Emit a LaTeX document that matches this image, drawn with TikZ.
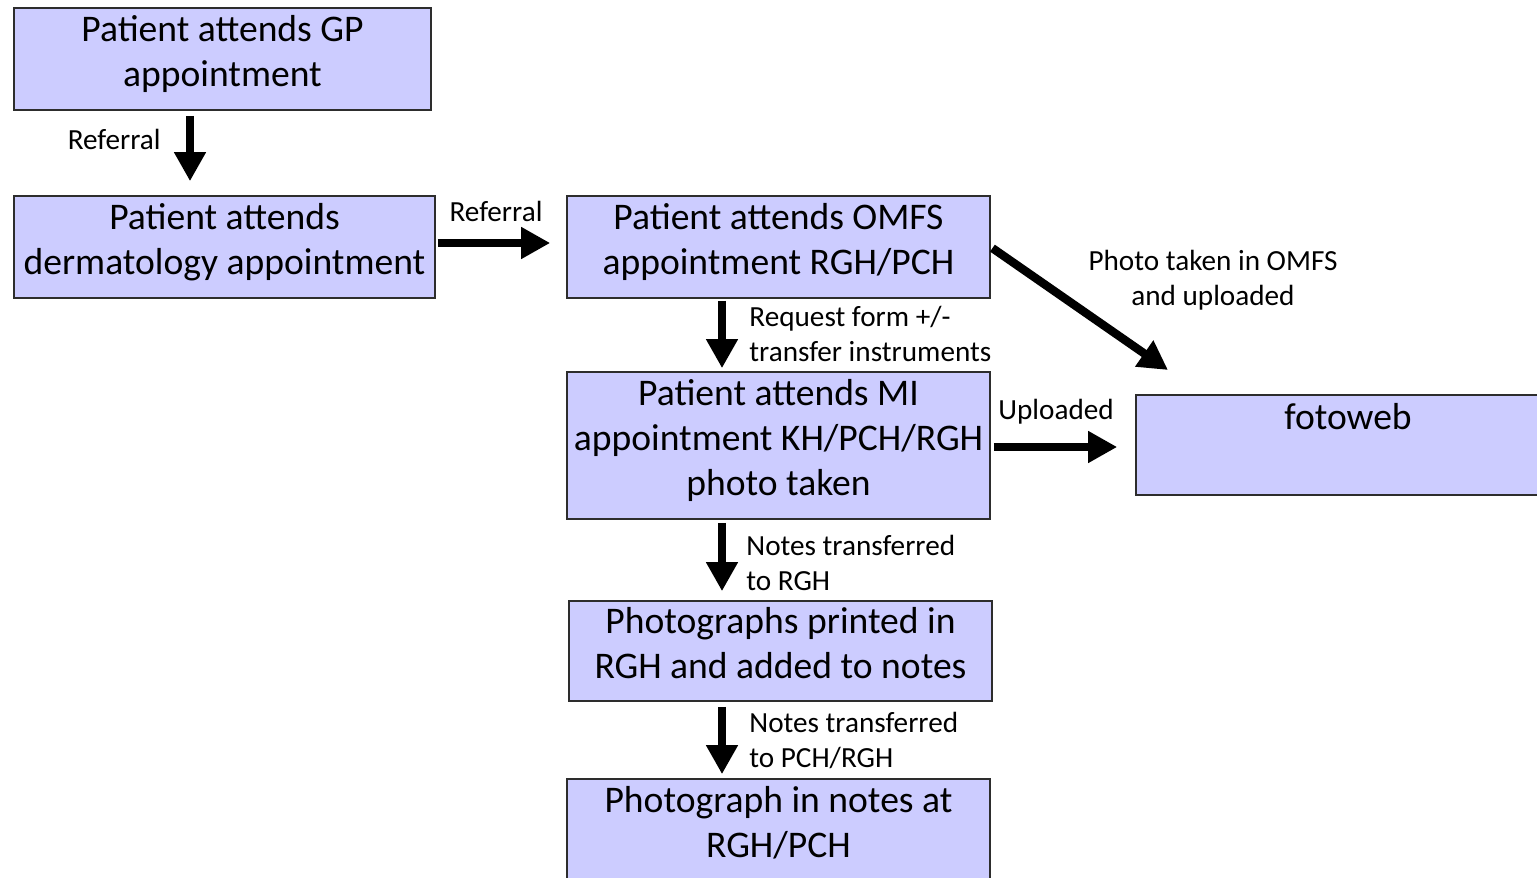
\documentclass[tikz,border=0pt]{standalone}
\usepackage{fontspec}
\setmainfont{Carlito}
\usetikzlibrary{arrows.meta}
\definecolor{boxfill}{RGB}{204,204,255}
\definecolor{boxline}{RGB}{45,45,45}
\begin{document}
\begin{tikzpicture}[x=0.5pt,y=-0.5pt,
  big/.style={font=\fontsize{18.8}{22.5}\selectfont},
  box/.style={big, draw=boxline, line width=0.8pt, fill=boxfill, minimum width=211.5pt,
    minimum height=51pt, inner sep=0pt, align=center,
    execute at begin node={\rule{0pt}{14pt}},
    execute at end node={\rule[-8pt]{0pt}{0pt}}},
  flow/.style={line width=4.2pt, -{Triangle[length=14.5pt,width=15pt]}},
  note/.style={font=\fontsize{14.6}{17.5}\selectfont, inner sep=0pt}]
\useasboundingbox (0,0) rectangle (1537,878);
\clip (0,0) rectangle (1537,878);
\fill[white] (0,0) rectangle (1537,878);

% process boxes
\node[box, minimum width=208.5pt] (gp) at (222.5,59) {Patient attends GP\\appointment};
\node[box, minimum width=210.5pt] (derm) at (224.5,247) {Patient attends\\dermatology appointment};
\node[box] (omfs) at (778.5,247) {Patient attends OMFS\\appointment RGH/PCH};
\node[box, minimum height=73.5pt] (mi) at (778.5,445.5) {Patient attends MI\\appointment KH/PCH/RGH\\photo taken};
\node[box, minimum width=212pt, minimum height=50pt,
  execute at end node={\rule[-29.5pt]{0pt}{0pt}}] (fw) at (1348,445) {fotoweb};
\node[box, minimum height=50pt] (print) at (780.5,651) {Photographs printed in\\RGH and added to notes};
\node[box, minimum height=50.5pt] (notes) at (778.5,829.5) {Photograph in notes at\\RGH/PCH};

% connector columns and rows
\coordinate (colA) at (190,0);
\coordinate (colB) at (722,0);
\coordinate (rowA) at (0,243);
\coordinate (rowB) at (0,447);
\coordinate (ftip) at (1168,370);

% connectors
\draw[flow, shorten <=2.5pt, shorten >=7pt] (gp.south -| colA) -- (derm.north -| colA);
\draw[flow, shorten <=1pt, shorten >=8pt] (derm.east |- rowA) -- (omfs.west |- rowA);
\draw[flow, shorten <=1pt, shorten >=1.5pt] (omfs.south -| colB) -- (mi.north -| colB);
\draw[flow, shorten <=1pt] (omfs.east) -- (ftip);
\draw[flow, shorten <=1.5pt, shorten >=9pt] (mi.east |- rowB) -- (fw.west |- rowB);
\draw[flow, shorten <=1.5pt, shorten >=4.5pt] (mi.south -| colB) -- (print.north -| colB);
\draw[flow, shorten <=2.5pt, shorten >=2pt] (print.south -| colB) -- (notes.north -| colB);

% connector labels
\node[note, anchor=east] (l1) at (161,139) {Referral};
\node[note] (l2) at (496,211) {Referral};
\node[note, anchor=west, align=left] (l3) at (749,333.5) {Request form +/-\\transfer instruments};
\node[note, align=center] (l4) at (1213,280) {Photo taken in OMFS\\and uploaded};
\node[note, anchor=west] (l5) at (998,412) {Uploaded};
\node[note, anchor=west, align=left] (l6) at (746,562.5) {Notes transferred\\to RGH};
\node[note, anchor=west, align=left] (l7) at (749,740.5) {Notes transferred\\to PCH/RGH};
\end{tikzpicture}
\end{document}
